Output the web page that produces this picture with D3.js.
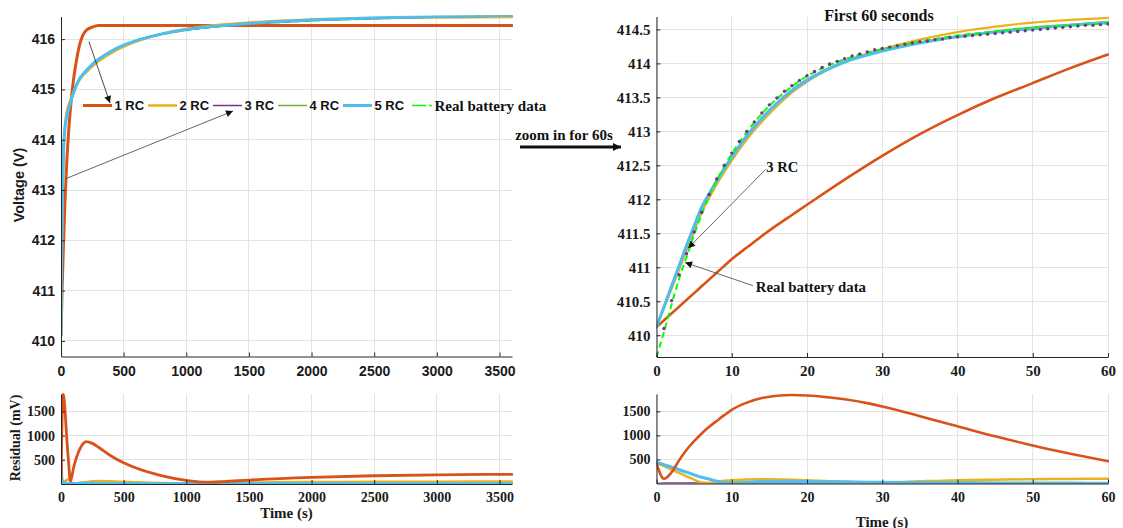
<!DOCTYPE html>
<html>
<head>
<meta charset="utf-8">
<script src="https://cdn.jsdelivr.net/npm/d3@7"></script>
<style>
  html, body { margin: 0; padding: 0; background: #fff; }
  svg { display: block; }
</style>
</head>
<body>
<svg id="chart" width="1123" height="528"></svg>
<script>
// ---------------- data ----------------
const seriesNames = ["1 RC", "2 RC", "3 RC", "4 RC", "5 RC", "Real battery data"];

// Full one-hour run (s) and terminal voltage (V)
const timeLong = [0, 5, 10, 20, 30, 40, 60, 80, 100, 125, 150, 175, 200, 250, 300, 400, 500, 600, 800, 1000, 1200, 1500, 2000, 2500, 3000, 3600];
const realLong = [409.68, 411.48, 412.67, 413.81, 414.21, 414.41, 414.59, 414.77, 414.93, 415.10, 415.22, 415.30, 415.37, 415.50, 415.60, 415.76, 415.88, 415.97, 416.10, 416.18, 416.24, 416.30, 416.37, 416.41, 416.44, 416.46];
const rc1Long = [410.12, 410.62, 411.12, 411.92, 412.64, 413.24, 414.13, 414.75, 415.20, 415.60, 415.90, 416.08, 416.17, 416.24, 416.27, 416.27, 416.27, 416.27, 416.27, 416.27, 416.27, 416.27, 416.27, 416.27, 416.27, 416.27];
const rc2Long = [410.12, 411.53, 412.57, 413.73, 414.21, 414.46, 414.69, 414.81, 414.94, 415.08, 415.20, 415.28, 415.34, 415.46, 415.56, 415.72, 415.85, 415.95, 416.10, 416.20, 416.27, 416.33, 416.39, 416.42, 416.43, 416.44];
const rc3Long = [409.68, 411.52, 412.68, 413.82, 414.22, 414.39, 414.58, 414.77, 414.93, 415.10, 415.22, 415.30, 415.37, 415.50, 415.60, 415.76, 415.88, 415.97, 416.10, 416.18, 416.24, 416.30, 416.37, 416.41, 416.44, 416.46];
const rc4Long = [410.12, 411.62, 412.63, 413.76, 414.19, 414.40, 414.61, 414.78, 414.93, 415.10, 415.22, 415.30, 415.37, 415.50, 415.60, 415.76, 415.88, 415.97, 416.10, 416.19, 416.25, 416.31, 416.38, 416.42, 416.45, 416.47];
const rc5Long = [410.12, 411.60, 412.62, 413.75, 414.18, 414.39, 414.60, 414.78, 414.93, 415.10, 415.22, 415.30, 415.37, 415.50, 415.60, 415.76, 415.88, 415.97, 416.10, 416.19, 416.25, 416.31, 416.38, 416.42, 416.45, 416.47];

// First 60 seconds (s) and terminal voltage (V)
const timeShort = [0, 1, 2, 3, 4, 5, 6, 7, 8, 10, 12, 14, 16, 18, 20, 25, 30, 35, 40, 45, 50, 55, 60];
const realShort = [409.68, 410.05, 410.45, 410.83, 411.15, 411.48, 411.78, 412.05, 412.28, 412.67, 412.99, 413.26, 413.48, 413.66, 413.81, 414.06, 414.21, 414.32, 414.41, 414.47, 414.52, 414.56, 414.59];
const rc1Short = [410.12, 410.22, 410.32, 410.42, 410.52, 410.62, 410.72, 410.82, 410.92, 411.12, 411.29, 411.46, 411.62, 411.77, 411.92, 412.29, 412.64, 412.96, 413.24, 413.49, 413.71, 413.93, 414.13];
const rc2Short = [410.12, 410.40, 410.68, 410.96, 411.25, 411.53, 411.80, 412.02, 412.22, 412.57, 412.88, 413.14, 413.37, 413.57, 413.73, 414.02, 414.21, 414.35, 414.46, 414.54, 414.60, 414.64, 414.67];
const rc4Short = [410.12, 410.43, 410.73, 411.03, 411.33, 411.62, 411.89, 412.09, 412.28, 412.63, 412.94, 413.20, 413.42, 413.61, 413.76, 414.03, 414.19, 414.31, 414.40, 414.47, 414.53, 414.57, 414.61];
const rc5Short = [410.12, 410.42, 410.72, 411.02, 411.32, 411.60, 411.88, 412.08, 412.27, 412.62, 412.93, 413.19, 413.41, 413.60, 413.75, 414.02, 414.18, 414.30, 414.39, 414.46, 414.51, 414.56, 414.60];
// 3 RC model sampled once per second, 0..60 s
const rc3Seconds = [409.68, 410.10, 410.51, 410.89, 411.20, 411.52, 411.81, 412.07, 412.30, 412.50,
                    412.68, 412.85, 413.00, 413.14, 413.27, 413.39, 413.49, 413.59, 413.67, 413.75,
                    413.82, 413.88, 413.94, 413.99, 414.03, 414.07, 414.11, 414.14, 414.17, 414.20,
                    414.22, 414.24, 414.26, 414.28, 414.30, 414.32, 414.33, 414.35, 414.36, 414.38,
                    414.39, 414.40, 414.41, 414.42, 414.43, 414.44, 414.45, 414.46, 414.47, 414.48,
                    414.49, 414.50, 414.51, 414.52, 414.53, 414.54, 414.55, 414.56, 414.56, 414.57,
                    414.58];

// Residuals (mV) over the full run
const resTimeLong = [0, 1, 2, 5, 10, 18, 30, 40, 50, 60, 75, 90, 100, 125, 150, 175, 200, 250, 300, 400, 500, 600, 800, 1000, 1100, 1200, 1300, 1500, 2000, 2500, 3000, 3600];
const res1Long = [420, 100, 230, 880, 1540, 1850, 1600, 1190, 790, 465, 60, 200, 330, 560, 720, 830, 875, 840, 760, 580, 440, 330, 175, 75, 45, 40, 50, 80, 135, 170, 190, 200];
const res2Long = [420, 360, 290, 80, 70, 80, 15, 70, 90, 100, 60, 20, 10, 15, 25, 35, 40, 55, 60, 55, 45, 35, 20, 15, 18, 20, 22, 30, 40, 45, 48, 50];
const res3Long = [0, 10, 12, 10, 8, 8, 6, 6, 6, 5, 5, 5, 5, 5, 5, 5, 5, 5, 5, 5, 5, 5, 5, 5, 5, 5, 5, 5, 5, 5, 5, 5];
const res4Long = [440, 390, 340, 180, 15, 45, 25, 15, 10, 6, 8, 10, 10, 12, 14, 15, 15, 14, 12, 10, 8, 6, 5, 5, 5, 5, 5, 5, 5, 5, 5, 5];
const res5Long = [440, 390, 340, 180, 10, 45, 25, 15, 10, 5, 8, 10, 10, 12, 14, 15, 15, 14, 12, 10, 8, 6, 5, 5, 5, 5, 5, 5, 5, 5, 5, 5];

// Residuals (mV) over the first 60 seconds
const resTimeShort = [0, 1, 2, 3, 4, 5, 6, 7, 8, 9, 10, 12, 14, 16, 18, 20, 25, 28, 30, 35, 40, 45, 50, 55, 60];
const res1Short = [420, 100, 230, 480, 700, 880, 1040, 1180, 1300, 1420, 1530, 1680, 1775, 1825, 1840, 1830, 1750, 1670, 1600, 1400, 1190, 980, 790, 620, 465];
const res2Short = [420, 360, 290, 220, 150, 80, 20, 10, 40, 55, 70, 85, 90, 85, 80, 70, 30, 5, 15, 45, 70, 80, 90, 95, 100];
const res3Short = [0, 10, 12, 12, 10, 10, 8, 8, 6, 6, 5, 5, 5, 5, 5, 5, 5, 5, 5, 5, 5, 5, 5, 5, 5];
const res4Short = [440, 390, 340, 285, 235, 180, 130, 90, 50, 20, 12, 25, 40, 45, 45, 40, 35, 28, 25, 20, 15, 12, 10, 8, 6];
const res5Short = [440, 390, 340, 285, 235, 180, 130, 90, 50, 20, 10, 25, 40, 45, 45, 40, 35, 28, 25, 20, 15, 12, 10, 8, 5];

// Tick values
const longXTicks = [0, 500, 1000, 1500, 2000, 2500, 3000, 3500];
const shortXTicks = [0, 10, 20, 30, 40, 50, 60];
const voltLongTicks = [410, 411, 412, 413, 414, 415, 416];
const voltShortTicks = [410, 410.5, 411, 411.5, 412, 412.5, 413, 413.5, 414, 414.5];
const residualTicks = [500, 1000, 1500];

// ---------------- styling ----------------
const SANS = "'Liberation Sans', Arial, Helvetica, sans-serif";
const SERIF = "'Liberation Serif', 'Times New Roman', Times, serif";
const COL = { rc1: "#D95319", rc2: "#EDB120", rc3: "#7E2F8E", rc4: "#77AC30", rc5: "#4DBEEE", real: "#00FF00" };
const AXIS_COL = "#262626";
const GRID_COL = "#e4e4e4";

const svg = d3.select("#chart");
const defs = svg.append("defs");

defs.append("marker").attr("id", "headSmall")
  .attr("viewBox", "0 0 10 10").attr("refX", 10).attr("refY", 5)
  .attr("markerUnits", "userSpaceOnUse").attr("markerWidth", 9).attr("markerHeight", 7)
  .attr("orient", "auto")
  .append("path").attr("d", "M0,0L10,5L0,10Z").attr("fill", "#111");

defs.append("marker").attr("id", "headBig")
  .attr("viewBox", "0 0 10 10").attr("refX", 10).attr("refY", 5)
  .attr("markerUnits", "userSpaceOnUse").attr("markerWidth", 12).attr("markerHeight", 8)
  .attr("orient", "auto")
  .append("path").attr("d", "M0,0L10,5L0,10Z").attr("fill", "#111");

// Builds one axes box: scales, grid, clipped plot layer and axes
function makePanel(o) {
  const x = d3.scaleLinear().domain(o.xDomain).range([o.left, o.right]);
  const y = d3.scaleLinear().domain(o.yDomain).range([o.bottom, o.top]);
  const g = svg.append("g");

  const grid = g.append("g").attr("shape-rendering", "crispEdges");
  grid.selectAll("line.gx").data(o.xTicks).join("line").attr("class", "gx")
    .attr("x1", d => x(d)).attr("x2", d => x(d)).attr("y1", o.top).attr("y2", o.bottom)
    .attr("stroke", GRID_COL).attr("stroke-width", 1);
  grid.selectAll("line.gy").data(o.yTicks).join("line").attr("class", "gy")
    .attr("x1", o.left).attr("x2", o.right).attr("y1", d => y(d)).attr("y2", d => y(d))
    .attr("stroke", GRID_COL).attr("stroke-width", 1);

  const clipId = "clip-" + o.id;
  defs.append("clipPath").attr("id", clipId).append("rect")
    .attr("x", o.left).attr("y", o.top - 1)
    .attr("width", o.right - o.left + 1).attr("height", o.bottom - o.top + 1);
  const plot = g.append("g").attr("clip-path", `url(#${clipId})`);

  function drawAxes() {
    const ax = g.append("g").attr("transform", `translate(0,${o.bottom})`)
      .call(d3.axisBottom(x).tickValues(o.xTicks).tickSizeInner(-4).tickSizeOuter(0).tickFormat(d3.format("")));
    ax.select(".domain").attr("stroke", AXIS_COL);
    ax.selectAll(".tick line").attr("stroke", AXIS_COL);
    ax.selectAll(".tick text")
      .attr("y", o.xLabelBase).attr("dy", null)
      .attr("fill", "#1a1a1a").attr("font-family", o.font).attr("font-weight", "bold")
      .attr("font-size", o.xFontSize);

    const ay = g.append("g").attr("transform", `translate(${o.left},0)`)
      .call(d3.axisLeft(y).tickValues(o.yTicks).tickSizeInner(-4).tickSizeOuter(0)
        .tickPadding(o.yPad).tickFormat(d3.format("")));
    ay.select(".domain").attr("stroke", AXIS_COL);
    ay.selectAll(".tick line").attr("stroke", AXIS_COL);
    ay.selectAll(".tick text")
      .attr("fill", "#1a1a1a").attr("font-family", o.font).attr("font-weight", "bold")
      .attr("font-size", o.yFontSize);
    g.selectAll(".domain").attr("stroke-width", 1);
  }
  return { x, y, g, plot, drawAxes };
}

function drawLine(p, xs, ys, color, width, dash) {
  const pts = xs.map((t, i) => [t, ys[i]]);
  const line = d3.line().x(d => p.x(d[0])).y(d => p.y(d[1])).curve(d3.curveMonotoneX);
  const path = p.plot.append("path").datum(pts)
    .attr("d", line).attr("fill", "none")
    .attr("stroke", color).attr("stroke-width", width)
    .attr("stroke-linejoin", "round").attr("stroke-linecap", "round");
  if (dash) path.attr("stroke-dasharray", dash).attr("stroke-linecap", "butt");
  return path;
}

// ---------------- top-left: full hour voltage ----------------
const pA = makePanel({
  id: "a", left: 61, right: 512, top: 16.5, bottom: 356.5,
  xDomain: [0, 3600], yDomain: [409.69, 416.45],
  xTicks: longXTicks, yTicks: voltLongTicks,
  font: SANS, xFontSize: 14, yFontSize: 14, xLabelBase: 19.5, yPad: 6
});
drawLine(pA, timeLong, realLong, COL.real, 2.2, "6,4");
drawLine(pA, timeLong, rc1Long, COL.rc1, 3);
drawLine(pA, timeLong, rc2Long, COL.rc2, 2.6);
drawLine(pA, timeLong, rc3Long, COL.rc3, 1.5);
drawLine(pA, timeLong, rc4Long, COL.rc4, 1.5);
drawLine(pA, timeLong, rc5Long, COL.rc5, 3);
pA.drawAxes();

svg.append("text")
  .attr("transform", "translate(19,185) rotate(-90)")
  .attr("text-anchor", "middle").attr("dominant-baseline", "central")
  .attr("font-family", SANS).attr("font-weight", "bold").attr("font-size", 14.5)
  .attr("fill", "#1a1a1a").text("Voltage (V)");

// legend (horizontal, no box)
const legendLayout = [
  { x: 83, w: 29, color: COL.rc1, width: 3, font: SANS, size: 13 },
  { x: 148, w: 29, color: COL.rc2, width: 2.6, font: SANS, size: 13 },
  { x: 213, w: 29, color: COL.rc3, width: 1.5, font: SANS, size: 13 },
  { x: 278, w: 29, color: COL.rc4, width: 1.5, font: SANS, size: 13 },
  { x: 343, w: 29, color: COL.rc5, width: 3, font: SANS, size: 13 },
  { x: 412, w: 20, color: COL.real, width: 1.5, font: SERIF, size: 15, dash: "14,3,3,3" }
];
const legendY = 105.5;
const legend = svg.append("g");
legendLayout.forEach((L, i) => {
  const ln = legend.append("line")
    .attr("x1", L.x).attr("x2", L.x + L.w).attr("y1", legendY).attr("y2", legendY)
    .attr("stroke", L.color).attr("stroke-width", L.width);
  if (L.dash) ln.attr("stroke-dasharray", L.dash);
  legend.append("text")
    .attr("x", L.x + L.w + 2.5).attr("y", legendY).attr("dy", "0.36em")
    .attr("font-family", L.font).attr("font-weight", "bold").attr("font-size", L.size)
    .attr("fill", "#111").text(seriesNames[i]);
});

// annotation arrows pointing at the legend entries
const annA = svg.append("g");
annA.append("line")
  .attr("x1", pA.x(223)).attr("y1", pA.y(415.95)).attr("x2", pA.x(391)).attr("y2", pA.y(414.73))
  .attr("stroke", "#333").attr("stroke-width", 0.9).attr("marker-end", "url(#headSmall)");
annA.append("line")
  .attr("x1", pA.x(32)).attr("y1", pA.y(413.22)).attr("x2", pA.x(1373)).attr("y2", pA.y(414.57))
  .attr("stroke", "#555").attr("stroke-width", 0.9).attr("marker-end", "url(#headSmall)");

// ---------------- top-right: first 60 seconds ----------------
const pB = makePanel({
  id: "b", left: 656.5, right: 1108, top: 16.5, bottom: 357,
  xDomain: [0, 60], yDomain: [409.68, 414.69],
  xTicks: shortXTicks, yTicks: voltShortTicks,
  font: SERIF, xFontSize: 15, yFontSize: 15, xLabelBase: 18.5, yPad: 6
});
drawLine(pB, timeShort, rc1Short, COL.rc1, 2.6);
drawLine(pB, timeShort, rc2Short, COL.rc2, 2.2);
drawLine(pB, timeShort, rc4Short, COL.rc4, 2);
drawLine(pB, timeShort, rc5Short, COL.rc5, 3);
drawLine(pB, timeShort, realShort, COL.real, 2, "6,4");
pB.plot.append("g").selectAll("circle")
  .data(rc3Seconds.map((v, i) => [i, v]))
  .join("circle")
  .attr("cx", d => pB.x(d[0])).attr("cy", d => pB.y(d[1])).attr("r", 1.7)
  .attr("fill", COL.rc3);
pB.drawAxes();

svg.append("text")
  .attr("x", 879).attr("y", 21).attr("text-anchor", "middle")
  .attr("font-family", SERIF).attr("font-weight", "bold").attr("font-size", 16)
  .attr("fill", "#111").text("First 60 seconds");

const annB = svg.append("g");
annB.append("text")
  .attr("x", pB.x(14.6)).attr("y", pB.y(412.40))
  .attr("font-family", SERIF).attr("font-weight", "bold").attr("font-size", 14.5)
  .attr("fill", "#111").text("3 RC");
annB.append("line")
  .attr("x1", pB.x(14.5)).attr("y1", pB.y(412.44)).attr("x2", pB.x(4.2)).attr("y2", pB.y(411.28))
  .attr("stroke", "#555").attr("stroke-width", 0.9).attr("marker-end", "url(#headSmall)");
annB.append("text")
  .attr("x", pB.x(13.2)).attr("y", pB.y(410.63))
  .attr("font-family", SERIF).attr("font-weight", "bold").attr("font-size", 14.8)
  .attr("fill", "#111").text("Real battery data");
annB.append("line")
  .attr("x1", pB.x(12.8)).attr("y1", pB.y(410.73)).attr("x2", pB.x(3.8)).attr("y2", pB.y(411.07))
  .attr("stroke", "#555").attr("stroke-width", 0.9).attr("marker-end", "url(#headSmall)");

// "zoom in" pointer between the two voltage panels
svg.append("text")
  .attr("x", 564).attr("y", 140).attr("text-anchor", "middle")
  .attr("font-family", SERIF).attr("font-weight", "bold").attr("font-size", 15)
  .attr("fill", "#111").text("zoom in for 60s");
svg.append("line")
  .attr("x1", 520).attr("y1", 147).attr("x2", 621).attr("y2", 147)
  .attr("stroke", "#111").attr("stroke-width", 3).attr("marker-end", "url(#headBig)");

// ---------------- bottom-left: residuals, full hour ----------------
const pC = makePanel({
  id: "c", left: 61, right: 512, top: 394, bottom: 484,
  xDomain: [0, 3600], yDomain: [0, 1860],
  xTicks: longXTicks, yTicks: residualTicks,
  font: SERIF, xFontSize: 14, yFontSize: 14, xLabelBase: 18, yPad: 6
});
drawLine(pC, resTimeLong, res3Long, COL.rc3, 1.5);
drawLine(pC, resTimeLong, res2Long, COL.rc2, 2.5);
drawLine(pC, resTimeLong, res4Long, COL.rc4, 2);
drawLine(pC, resTimeLong, res5Long, COL.rc5, 3);
drawLine(pC, resTimeLong, res1Long, COL.rc1, 2.8);
pC.drawAxes();

svg.append("text")
  .attr("transform", "translate(15,438) rotate(-90)")
  .attr("text-anchor", "middle").attr("dominant-baseline", "central")
  .attr("font-family", SERIF).attr("font-weight", "bold").attr("font-size", 14)
  .attr("fill", "#1a1a1a").text("Residual (mV)");
svg.append("text")
  .attr("x", 286.5).attr("y", 518).attr("text-anchor", "middle")
  .attr("font-family", SERIF).attr("font-weight", "bold").attr("font-size", 15)
  .attr("fill", "#1a1a1a").text("Time (s)");

// ---------------- bottom-right: residuals, first 60 seconds ----------------
const pD = makePanel({
  id: "d", left: 656.5, right: 1108, top: 394, bottom: 483.5,
  xDomain: [0, 60], yDomain: [0, 1860],
  xTicks: shortXTicks, yTicks: residualTicks,
  font: SERIF, xFontSize: 14, yFontSize: 14, xLabelBase: 18, yPad: 6
});
drawLine(pD, resTimeShort, res3Short, COL.rc3, 1.5);
drawLine(pD, resTimeShort, res2Short, COL.rc2, 2.5);
drawLine(pD, resTimeShort, res4Short, COL.rc4, 2);
drawLine(pD, resTimeShort, res5Short, COL.rc5, 3);
drawLine(pD, resTimeShort, res1Short, COL.rc1, 2.6);
pD.drawAxes();

svg.append("text")
  .attr("x", 882).attr("y", 526.5).attr("text-anchor", "middle")
  .attr("font-family", SERIF).attr("font-weight", "bold").attr("font-size", 15)
  .attr("fill", "#1a1a1a").text("Time (s)");
</script>
</body>
</html>
